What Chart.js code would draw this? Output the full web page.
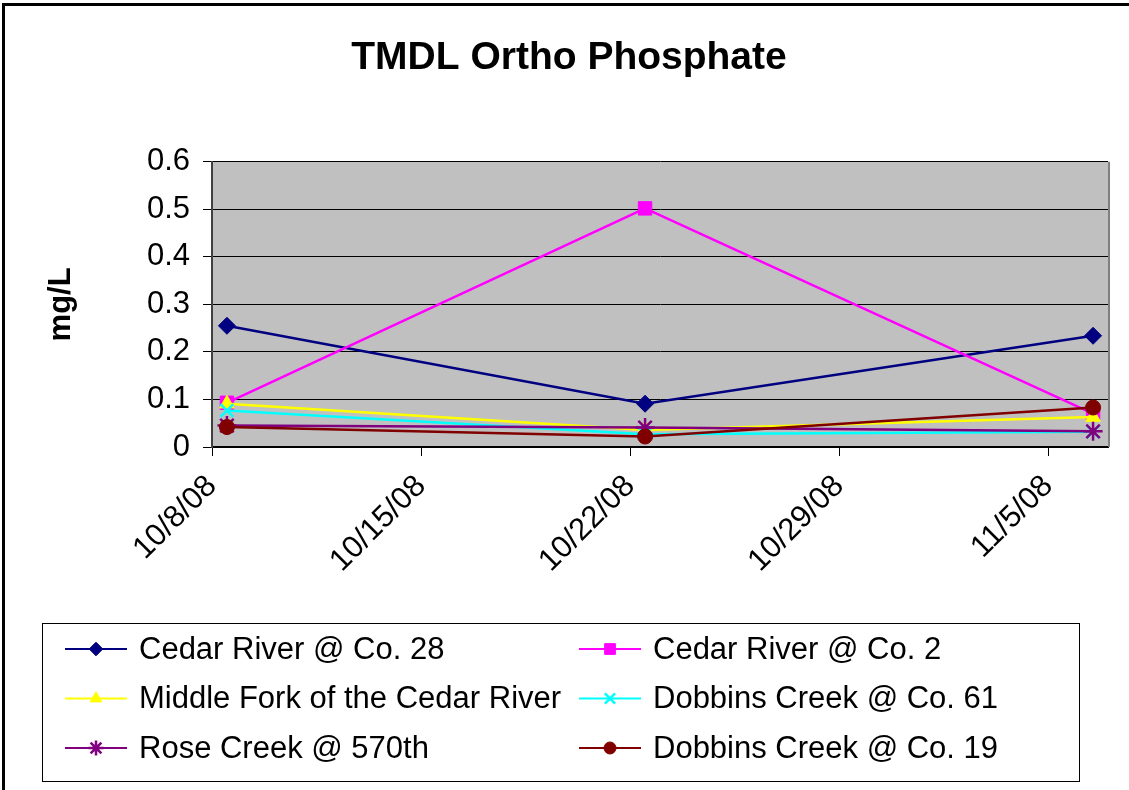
<!DOCTYPE html>
<html>
<head>
<meta charset="utf-8">
<script src="https://cdn.jsdelivr.net/npm/chart.js@4.4.0/dist/chart.umd.min.js"></script>
<style>
  html, body { margin: 0; padding: 0; background: #fff; overflow: hidden; }
  #frame { position: absolute; left: 2px; top: 3px; width: 1200px; height: 900px; border: 3px solid #000; box-sizing: border-box; }
  #chart { position: absolute; left: 0; top: 0; }
</style>
</head>
<body>
<div id="frame"></div>
<canvas id="chart" width="1129" height="790"></canvas>
<script>
// sample dates and readings (mg/L)
const sampleDates = ['10/8/08', '10/22/08', '11/6/08'];
const cedarCo28 = [0.255, 0.091, 0.234];
const cedarCo2 = [0.093, 0.502, 0.070];
const middleFork = [0.091, 0.036, 0.063];
const dobbinsCo61 = [0.077, 0.027, 0.032];
const roseCreek = [0.045, 0.041, 0.033];
const dobbinsCo19 = [0.042, 0.022, 0.083];

const seriesNames = [
    'Cedar River @ Co. 28',
    'Cedar River @ Co. 2',
    'Middle Fork of the Cedar River',
    'Dobbins Creek @ Co. 61',
    'Rose Creek @ 570th',
    'Dobbins Creek @ Co. 19'
];
const seriesValues = [cedarCo28, cedarCo2, middleFork, dobbinsCo61, roseCreek, dobbinsCo19];

// axis
const axisStart = '10/8/08';
const axisEnd = '11/7/08';
const tickDates = ['10/8/08', '10/15/08', '10/22/08', '10/29/08', '11/5/08'];
const yMax = 0.6;
const yStep = 0.1;

// styles
const seriesColors = ['#000080', '#FF00FF', '#FFFF00', '#00FFFF', '#800080', '#800000'];
const seriesMarkers = ['rectRot', 'rect', 'triangle', 'crossRot', 'star', 'circle'];
const markerSizes = [8.5, 9.5, 8.5, 9, 9.5, 7.5];
const FONT = '"Liberation Sans", Arial, sans-serif';

function toUTC(s) {
    const [m, d, y] = s.split('/').map(Number);
    return Date.UTC(2000 + y, m - 1, d);
}
function dayOffset(s) {
    return (toUTC(s) - toUTC(axisStart)) / 864e5;
}

const datasets = seriesNames.map((name, i) => {
    const lineMarker = seriesMarkers[i] === 'crossRot' || seriesMarkers[i] === 'star';
    return {
        label: name,
        // each reading sits in the middle of its day slot
        data: sampleDates.map((d, j) => ({ x: dayOffset(d) + 0.5, y: seriesValues[i][j] })),
        borderColor: seriesColors[i],
        borderWidth: 2.5,
        pointStyle: seriesMarkers[i],
        pointRadius: markerSizes[i],
        pointBackgroundColor: seriesColors[i],
        pointBorderColor: seriesColors[i],
        pointBorderWidth: lineMarker ? 2.5 : 1,
        tension: 0,
        order: -i
    };
});

const plotBackground = {
    id: 'plotBackground',
    beforeDraw(chart) {
        const { ctx, chartArea: a } = chart;
        ctx.save();
        ctx.fillStyle = '#C0C0C0';
        ctx.fillRect(a.left, a.top, a.right - a.left, a.bottom - a.top);
        ctx.restore();
    },
    afterDatasetsDraw(chart) {
        const { ctx, chartArea: a } = chart;
        ctx.save();
        ctx.strokeStyle = '#808080';
        ctx.lineWidth = 2;
        ctx.beginPath();
        ctx.moveTo(a.right + 1, a.top);
        ctx.lineTo(a.right + 1, a.bottom);
        ctx.stroke();
        ctx.restore();
    }
};

const legendBox = {
    id: 'legendBox',
    afterDraw(chart) {
        const ctx = chart.ctx;
        ctx.save();
        ctx.fillStyle = '#fff';
        ctx.fillRect(42.5, 623.5, 1037, 158);
        ctx.strokeStyle = '#000';
        ctx.lineWidth = 1;
        ctx.strokeRect(42.5, 623.5, 1037, 158);
        chart.data.datasets.forEach((ds, i) => {
            const col = i % 2;
            const row = Math.floor(i / 2);
            const x0 = col ? 579 : 65;
            const y = 649 + row * 49.5;
            ctx.strokeStyle = ds.borderColor;
            ctx.lineWidth = 2;
            ctx.beginPath();
            ctx.moveTo(x0, y);
            ctx.lineTo(x0 + 62, y);
            ctx.stroke();
            ctx.fillStyle = ds.pointBackgroundColor;
            ctx.strokeStyle = ds.pointBorderColor;
            ctx.lineWidth = ds.pointBorderWidth;
            Chart.helpers.drawPoint(ctx, {
                pointStyle: ds.pointStyle,
                radius: ds.pointRadius * 0.8,
                rotation: 0,
                borderWidth: ds.pointBorderWidth
            }, x0 + 31, y);
            ctx.fillStyle = '#000';
            ctx.font = '31px ' + FONT;
            ctx.textBaseline = 'middle';
            ctx.textAlign = 'left';
            ctx.fillText(ds.label, x0 + 74, y + 1);
        });
        ctx.restore();
    }
};

new Chart(document.getElementById('chart'), {
    type: 'line',
    data: { datasets },
    plugins: [plotBackground, legendBox],
    options: {
        responsive: false,
        animation: false,
        layout: { padding: { left: 30, right: 21, top: 0, bottom: 173 } },
        plugins: {
            legend: { display: false },
            tooltip: { enabled: false },
            title: {
                display: true,
                text: 'TMDL Ortho Phosphate',
                color: '#000',
                font: { family: FONT, size: 39, weight: 'bold', lineHeight: 1.2 },
                padding: { top: 35, bottom: 80 }
            }
        },
        scales: {
            x: {
                type: 'linear',
                min: 0,
                max: dayOffset(axisEnd),
                afterBuildTicks: s => { s.ticks = tickDates.map(d => ({ value: dayOffset(d) })); },
                afterFit: s => { s.height = 170; },
                ticks: {
                    autoSkip: false,
                    minRotation: 45,
                    maxRotation: 45,
                    padding: 12,
                    color: '#000',
                    font: { family: FONT, size: 31 },
                    callback: v => tickDates.find(d => dayOffset(d) === v)
                },
                grid: { drawOnChartArea: false, drawTicks: true, tickLength: 9, color: '#000', tickColor: '#000' },
                border: { color: '#000', width: 2 }
            },
            y: {
                min: 0,
                max: yMax,
                afterFit: s => { s.width = 182; },
                ticks: {
                    stepSize: yStep,
                    padding: 13,
                    color: '#000',
                    font: { family: FONT, size: 31 },
                    callback: v => String(Math.round(v * 10) / 10)
                },
                grid: { color: '#000', lineWidth: 1, tickLength: 9, tickColor: '#000' },
                border: { color: '#404040', width: 2 },
                title: {
                    display: true,
                    text: 'mg/L',
                    color: '#000',
                    font: { family: FONT, size: 31, weight: 'bold', lineHeight: 1.2 },
                    padding: { top: 13, bottom: 0 }
                }
            }
        }
    }
});
</script>
</body>
</html>
